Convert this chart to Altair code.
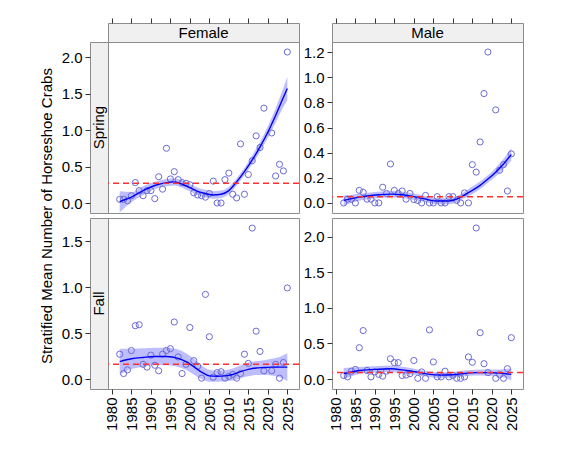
import altair as alt
import pandas as pd

# ---------------- data ----------------
years = [1982, 1983, 1984, 1985, 1986, 1987, 1988, 1989, 1990, 1991,
         1992, 1993, 1994, 1995, 1996, 1997, 1998, 1999, 2000, 2001,
         2002, 2003, 2004, 2005, 2006, 2007, 2008, 2009, 2010, 2011,
         2012, 2013, 2014, 2015, 2016, 2017, 2018, 2019,
         2021, 2022, 2023, 2024, 2025]

female_spring = [0.05, 0.05, 0.03, 0.10, 0.28, 0.17, 0.10, 0.17, 0.17, 0.06,
                 0.36, 0.19, 0.75, 0.33, 0.43, 0.32, 0.28, 0.27, 0.25, 0.14,
                 0.11, 0.10, 0.08, 0.13, 0.30, 0.00, 0.00, 0.32, 0.41, 0.12,
                 0.07, 0.81, 0.12, 0.39, 0.58, 0.92, 0.76, 1.30,
                 0.96, 0.37, 0.53, 0.44, 2.07]
male_spring = [0.00, 0.03, 0.03, 0.00, 0.10, 0.085, 0.03, 0.03, 0.00, 0.00,
               0.125, 0.075, 0.31, 0.10, 0.075, 0.095, 0.03, 0.075, 0.027, 0.02,
               0.00, 0.06, 0.00, 0.00, 0.05, 0.00, 0.00, 0.05, 0.05, 0.02,
               0.00, 0.08, 0.00, 0.305, 0.245, 0.485, 0.87, 1.20,
               0.74, 0.26, 0.305, 0.095, 0.39]
female_fall = [0.27, 0.06, 0.10, 0.31, 0.58, 0.59, 0.16, 0.13, 0.26, 0.15,
               0.09, 0.27, 0.31, 0.33, 0.62, 0.24, 0.06, 0.16, 0.56, 0.20,
               0.14, 0.01, 0.92, 0.46, 0.02, 0.07, 0.08, 0.01, 0.03, 0.05,
               0.01, 0.06, 0.27, 0.17, 1.64, 0.52, 0.30, 0.09,
               0.09, 0.16, 0.01, 0.18, 0.99]
male_fall = [0.05, 0.03, 0.11, 0.135, 0.44, 0.68, 0.12, 0.03, 0.10, 0.065,
             0.04, 0.11, 0.285, 0.23, 0.23, 0.05, 0.055, 0.075, 0.26, 0.01,
             0.10, 0.01, 0.69, 0.24, 0.03, 0.03, 0.11, 0.03, 0.05, 0.01,
             0.01, 0.03, 0.31, 0.235, 2.12, 0.65, 0.215, 0.09,
             0.01, 0.06, 0.01, 0.145, 0.58]

# dashed reference lines (one per panel)
ref_female_spring = 0.27
ref_male_spring = 0.05
ref_female_fall = 0.16
ref_male_fall = 0.09

# smooth fits with confidence band
fs_fit_years = [1982, 1985, 1988, 1991, 1994, 1996, 1998, 2000, 2002, 2004, 2006,
                2008, 2010, 2012, 2014, 2016, 2018, 2020, 2022, 2024, 2025]
fs_fit = [0.02, 0.08, 0.17, 0.24, 0.28, 0.29, 0.26, 0.21, 0.16, 0.13, 0.11,
          0.12, 0.17, 0.29, 0.43, 0.59, 0.77, 0.97, 1.20, 1.45, 1.57]
fs_lo = [-0.13, 0.01, 0.11, 0.19, 0.23, 0.24, 0.21, 0.16, 0.11, 0.08, 0.06,
         0.07, 0.12, 0.24, 0.38, 0.53, 0.70, 0.89, 1.10, 1.32, 1.41]
fs_hi = [0.16, 0.15, 0.23, 0.29, 0.33, 0.34, 0.31, 0.26, 0.21, 0.18, 0.16,
         0.17, 0.22, 0.34, 0.48, 0.65, 0.84, 1.05, 1.30, 1.58, 1.73]

ms_fit_years = [1982, 1985, 1988, 1991, 1994, 1997, 2000, 2003, 2006, 2009,
                2011, 2013, 2015, 2017, 2019, 2021, 2023, 2025]
ms_fit = [0.02, 0.04, 0.055, 0.065, 0.07, 0.065, 0.05, 0.03, 0.015, 0.015,
          0.03, 0.065, 0.10, 0.14, 0.19, 0.245, 0.31, 0.385]
ms_lo = [-0.02, 0.01, 0.03, 0.04, 0.045, 0.04, 0.025, 0.005, -0.01, -0.01,
         0.005, 0.04, 0.07, 0.11, 0.16, 0.21, 0.27, 0.335]
ms_hi = [0.06, 0.07, 0.08, 0.09, 0.095, 0.09, 0.075, 0.055, 0.04, 0.04,
         0.055, 0.09, 0.13, 0.17, 0.22, 0.28, 0.35, 0.435]

ff_fit_years = [1982, 1985, 1988, 1991, 1994, 1997, 1999, 2001, 2003, 2005,
                2007, 2009, 2011, 2013, 2015, 2017, 2019, 2021, 2023, 2025]
ff_fit = [0.19, 0.22, 0.235, 0.245, 0.245, 0.225, 0.19, 0.135, 0.075, 0.035,
          0.03, 0.035, 0.05, 0.08, 0.105, 0.12, 0.125, 0.13, 0.13, 0.13]
ff_lo = [0.05, 0.11, 0.135, 0.15, 0.15, 0.13, 0.10, 0.05, 0.0, -0.03,
         -0.03, -0.025, -0.015, 0.01, 0.03, 0.045, 0.045, 0.04, 0.02, -0.02]
ff_hi = [0.33, 0.33, 0.335, 0.34, 0.34, 0.32, 0.28, 0.22, 0.15, 0.10,
         0.09, 0.095, 0.115, 0.15, 0.18, 0.195, 0.205, 0.22, 0.24, 0.28]

mf_fit_years = [1982, 1986, 1990, 1994, 1998, 2001, 2004, 2007, 2010, 2013,
                2016, 2019, 2022, 2025]
mf_fit = [0.075, 0.12, 0.135, 0.145, 0.12, 0.095, 0.065, 0.055, 0.06, 0.08,
          0.09, 0.09, 0.085, 0.065]
mf_lo = [-0.005, 0.07, 0.09, 0.10, 0.075, 0.055, 0.025, 0.015, 0.02, 0.04,
         0.05, 0.045, 0.035, -0.02]
mf_hi = [0.155, 0.17, 0.18, 0.19, 0.165, 0.135, 0.105, 0.095, 0.10, 0.12,
         0.13, 0.135, 0.135, 0.15]

x_ticks = [1980, 1985, 1990, 1995, 2000, 2005, 2010, 2015, 2020, 2025]
fs_ticks = [0.0, 0.5, 1.0, 1.5, 2.0]
ms_ticks = [0.0, 0.2, 0.4, 0.6, 0.8, 1.0, 1.2]
ff_ticks = [0.0, 0.5, 1.0, 1.5]
mf_ticks = [0.0, 0.5, 1.0, 1.5, 2.0]

fs_dom = [-0.137, 2.207]
ms_dom = [-0.08, 1.28]
ff_dom = [-0.108, 1.75]
mf_dom = [-0.14, 2.26]
x_dom = [1979.0, 2028.0]

# ---------------- styling ----------------
FONT = "Liberation Sans"
W, H = 191, 171
SW, SH = 18, 19
GAP, VGAP = 33, 5
PT = "#6b6bd6"
LINE = "#0000f0"
BAND = "#6f6fff"
RED = "#ff3030"
BORDER = "#8c8c8c"
STRIP = "#f0f0f0"


def xscale():
    return alt.Scale(domain=x_dom, nice=False, zero=False)


def yscale(dom):
    return alt.Scale(domain=dom, nice=False, zero=False)


def panel(vals, fy, fit, lo, hi, ref, ydom, yticks, show_x, show_y):
    pts = pd.DataFrame({"year": years, "value": vals})
    fdf = pd.DataFrame({"year": fy, "fit": fit, "lo": lo, "hi": hi})
    rdf = pd.DataFrame({"ref": [ref]})
    xax = alt.Axis(values=x_ticks, format="d", labelAngle=270, tickSize=5,
                   labelPadding=3, domain=False, grid=False) if show_x else None
    yax = alt.Axis(values=yticks, format=".1f", tickSize=5, labelPadding=3,
                   domain=False, grid=False) if show_y else None
    X = alt.X("year:Q", scale=xscale(), axis=xax, title=None)

    band = alt.Chart(fdf).mark_area(color=BAND, opacity=0.45, interpolate="monotone",
                                    clip=True).encode(
        x=X,
        y=alt.Y("lo:Q", scale=yscale(ydom), axis=yax, title=None),
        y2="hi:Q")
    line = alt.Chart(fdf).mark_line(color=LINE, strokeWidth=1.4, interpolate="monotone",
                                    clip=True).encode(
        x=X, y=alt.Y("fit:Q", scale=yscale(ydom), axis=yax, title=None))
    dots = alt.Chart(pts).mark_point(shape="circle", filled=False, size=38,
                                     strokeWidth=1, color=PT, opacity=1).encode(
        x=X, y=alt.Y("value:Q", scale=yscale(ydom), axis=yax, title=None))
    rule = alt.Chart(rdf).mark_rule(color=RED, strokeDash=[6, 4], strokeWidth=1.5).encode(
        y=alt.Y("ref:Q", scale=yscale(ydom), axis=yax, title=None))
    return alt.layer(band, dots, line, rule).properties(width=W, height=H)


def top_strip(label):
    lab = alt.Chart(pd.DataFrame({"t": [label]})).mark_text(
        font=FONT, fontSize=15, color="black").encode(text="t:N")
    ax = alt.Chart(pd.DataFrame({"year": x_ticks})).mark_point(opacity=0).encode(
        x=alt.X("year:Q", scale=xscale(), title=None,
                axis=alt.Axis(orient="top", values=x_ticks, labels=False, tickSize=5,
                              domain=False, grid=False)))
    return alt.layer(ax, lab).properties(
        width=W, height=SH, view=alt.ViewBackground(fill=STRIP, stroke=BORDER))


def left_strip(label, ydom, yticks, title):
    lab = alt.Chart(pd.DataFrame({"t": [label]})).mark_text(
        font=FONT, fontSize=15, color="black", angle=270).encode(text="t:N")
    if title:
        yax = alt.Axis(values=yticks, format=".1f", tickSize=5, labelPadding=3,
                       domain=False, grid=False, titleX=-36, titleY=173.6,
                       titleFontSize=15, titleFont=FONT, titleFontWeight="normal",
                       titleColor="black")
        ttl = "Stratified Mean Number of Horseshoe Crabs"
    else:
        yax = alt.Axis(values=yticks, format=".1f", tickSize=5, labelPadding=3,
                       domain=False, grid=False)
        ttl = None
    ax = alt.Chart(pd.DataFrame({"v": yticks})).mark_point(opacity=0).encode(
        y=alt.Y("v:Q", scale=yscale(ydom), axis=yax, title=ttl))
    return alt.layer(ax, lab).properties(
        width=SW, height=H, view=alt.ViewBackground(fill=STRIP, stroke=BORDER))


def spacer(w, h):
    return alt.Chart(pd.DataFrame({"a": [0]})).mark_point(opacity=0).encode(
        x=alt.value(0), y=alt.value(0)).properties(
        width=w, height=h, view=alt.ViewBackground(strokeOpacity=0))


cells = [
    spacer(SW, SH), top_strip("Female"), spacer(GAP, SH), top_strip("Male"),
    left_strip("Spring", fs_dom, fs_ticks, True),
    panel(female_spring, fs_fit_years, fs_fit, fs_lo, fs_hi, ref_female_spring,
          fs_dom, fs_ticks, False, False),
    spacer(GAP, H),
    panel(male_spring, ms_fit_years, ms_fit, ms_lo, ms_hi, ref_male_spring,
          ms_dom, ms_ticks, False, True),
    spacer(SW, VGAP), spacer(W, VGAP), spacer(GAP, VGAP), spacer(W, VGAP),
    left_strip("Fall", ff_dom, ff_ticks, False),
    panel(female_fall, ff_fit_years, ff_fit, ff_lo, ff_hi, ref_female_fall,
          ff_dom, ff_ticks, True, False),
    spacer(GAP, H),
    panel(male_fall, mf_fit_years, mf_fit, mf_lo, mf_hi, ref_male_fall,
          mf_dom, mf_ticks, True, True),
]

chart = alt.concat(*cells, columns=4, spacing=0, bounds="flush", align="each").properties(
    padding={"left": 30, "top": 9, "right": 5, "bottom": 5}
).configure_view(
    stroke=BORDER, strokeWidth=1
).configure_axis(
    labelFont=FONT, labelFontSize=15, labelColor="black", tickColor="#333333",
    domain=False, grid=False
).configure_text(font=FONT)

chart.save("out.html", embed_options={"renderer": "svg", "actions": False})
